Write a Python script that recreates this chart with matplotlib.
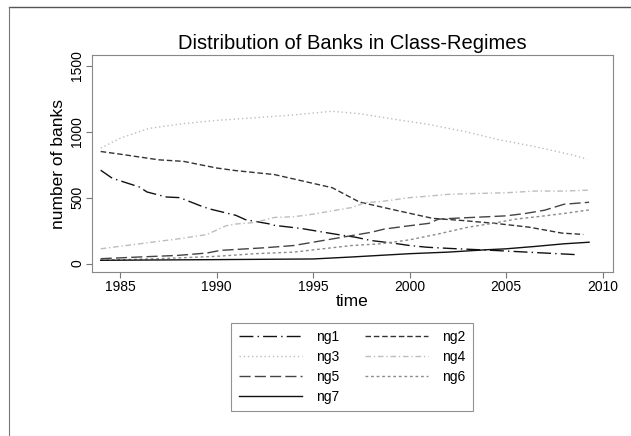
import matplotlib
matplotlib.use("Agg")
import matplotlib.pyplot as plt
from matplotlib.lines import Line2D

plt.rcParams["font.family"] = ["Liberation Sans", "DejaVu Sans"]

# ─────────────────────────────────────────────
# DATA  (number of banks per class-regime)
# ─────────────────────────────────────────────

ng1_t = [1984.0, 1984.6, 1986.0, 1986.4, 1987.4, 1988.1, 1989.1, 1989.6, 1991.0, 1991.5,
         1992.7, 1993.0, 1994.4, 1995.5, 1996.5, 1997.2, 1998.0, 1999.3, 2000.0, 2000.9,
         2002.2, 2004.5, 2006.2, 2007.0, 2008.6]
ng1 = [708, 647, 581, 543, 505, 500, 442, 416, 366, 333,
       302, 290, 266, 239, 215, 200, 175, 152, 137, 124,
       114, 99, 86, 80, 68]

ng2_t = [1984.0, 1985.0, 1987.0, 1988.3, 1990.0, 1991.0, 1993.0, 1994.5, 1996.0, 1997.4,
         1999.3, 2001.2, 2002.7, 2004.5, 2006.2, 2007.9, 2009.0]
ng2 = [850, 830, 787, 775, 725, 705, 675, 625, 575, 467,
       404, 343, 327, 304, 276, 231, 221]

ng3_t = [1984.0, 1985.0, 1986.5, 1988.3, 1990.1, 1991.9, 1993.8, 1995.6, 1996.0, 1997.4,
         1999.2, 2001.0, 2002.9, 2004.7, 2006.5, 2008.4, 2009.2]
ng3 = [875, 950, 1025, 1062, 1087, 1105, 1125, 1150, 1155, 1137,
       1095, 1055, 1000, 937, 887, 825, 792]

ng4_t = [1984.0, 1986.0, 1988.0, 1989.5, 1990.5, 1991.0, 1992.0, 1993.0, 1994.0, 1995.0,
         1996.0, 1997.0, 1997.7, 1998.5, 2000.0, 2001.0, 2002.0, 2003.0, 2005.0, 2006.5,
         2008.0, 2009.3]
ng4 = [112, 150, 187, 220, 287, 300, 312, 350, 355, 375,
       400, 425, 462, 470, 500, 512, 525, 530, 537, 550,
       550, 557]

ng5_t = [1984.0, 1986.0, 1988.0, 1989.5, 1990.2, 1991.0, 1992.5, 1994.0, 1995.0, 1996.0,
         1997.0, 1998.0, 1998.7, 2000.0, 2001.0, 2001.5, 2002.5, 2004.0, 2005.0, 2006.0,
         2007.0, 2008.0, 2009.3]
ng5 = [37, 50, 62, 80, 100, 107, 120, 137, 162, 187,
       212, 237, 262, 287, 305, 337, 345, 355, 362, 380,
       405, 450, 465]

ng6_t = [1984.0, 1987.0, 1990.0, 1992.0, 1994.0, 1995.5, 1997.0, 1998.5, 2000.0, 2001.5,
         2003.0, 2004.3, 2005.5, 2007.0, 2008.0, 2009.3]
ng6 = [25, 37, 55, 75, 87, 112, 137, 150, 180, 225,
       275, 305, 337, 362, 380, 407]

ng7_t = [1984.0, 1990.0, 1995.0, 1997.0, 2000.0, 2002.0, 2004.0, 2005.0, 2006.5, 2008.0, 2009.3]
ng7 = [25, 30, 35, 50, 75, 87, 105, 112, 130, 150, 162]

x_ticks = [1985, 1990, 1995, 2000, 2005, 2010]
y_ticks = [0, 500, 1000, 1500]

# ─────────────────────────────────────────────
# PLOT
# ─────────────────────────────────────────────

fig = plt.figure(figsize=(6.31, 4.36), dpi=100)
ax = fig.add_axes([0.1458, 0.3761, 0.8257, 0.4978])

series = [
    ("ng1", ng1_t, ng1, "#111111", (0, (10, 3, 1, 3))),
    ("ng2", ng2_t, ng2, "#333333", (0, (4, 2))),
    ("ng3", ng3_t, ng3, "#bdbdbd", (0, (1, 2))),
    ("ng4", ng4_t, ng4, "#bdbdbd", (0, (4, 2, 1, 2))),
    ("ng5", ng5_t, ng5, "#444444", (0, (8, 3))),
    ("ng6", ng6_t, ng6, "#8a8a8a", (0, (2, 2))),
    ("ng7", ng7_t, ng7, "#111111", "-"),
]

handles = {}
for name, t, v, color, ls in series:
    (ln,) = ax.plot(t, v, color=color, linestyle=ls, linewidth=1.0, label=name)
    handles[name] = ln

ax.set_xlim(1983.55, 2010.54)
ax.set_ylim(-64, 1582)
ax.set_xticks(x_ticks)
ax.set_yticks(y_ticks)
ax.tick_params(direction="out", length=4, width=0.8, color="#777777", labelsize=10, pad=1.5)
plt.setp(ax.get_yticklabels(), rotation=90, va="center")

for s in ax.spines.values():
    s.set_color("#888888")
    s.set_linewidth(0.8)

ax.set_title("Distribution of Banks in Class-Regimes", fontsize=14.5, pad=4)
ax.set_xlabel("time", fontsize=12.5, labelpad=0)
ax.set_ylabel("number of banks", fontsize=12.5, labelpad=3)

# row-major legend order with two columns
order = ["ng1", "ng3", "ng5", "ng7", "ng2", "ng4", "ng6"]
leg = fig.legend([handles[k] for k in order], order, ncol=2,
                 loc="upper center", bbox_to_anchor=(0.558, 0.276),
                 bbox_transform=fig.transFigure, fontsize=10,
                 handlelength=4.6, handletextpad=1.0, columnspacing=1.8,
                 labelspacing=0.42, borderpad=0.55, fancybox=False)
leg.get_frame().set_edgecolor("#777777")
leg.get_frame().set_linewidth(0.8)

# outer frame
fig.add_artist(Line2D([9 / 631, 1], [1 - 7 / 436, 1 - 7 / 436], color="#555555", linewidth=1.0))
fig.add_artist(Line2D([9 / 631, 9 / 631], [0, 1 - 7 / 436], color="#777777", linewidth=0.8))

fig.savefig("out.png", dpi=100)
